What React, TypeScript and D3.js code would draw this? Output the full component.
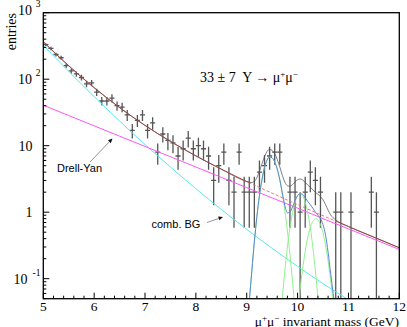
import React from 'react'
import * as d3 from 'd3'

// histogram: bin centres (GeV) and entries per 0.1 GeV bin
const binCenters = [
  5.05, 5.15, 5.25, 5.35, 5.45, 5.55, 5.65, 5.75, 5.85, 5.95,
  6.05, 6.15, 6.25, 6.35, 6.45, 6.55, 6.65, 6.75, 6.85, 6.95,
  7.05, 7.15, 7.25, 7.35, 7.45, 7.55, 7.65, 7.75, 7.85, 7.95,
  8.05, 8.15, 8.25, 8.35, 8.45, 8.55, 8.65, 8.75, 8.85, 8.95,
  9.05, 9.15, 9.25, 9.35, 9.45, 9.55, 9.65, 9.75, 9.85, 9.95,
  10.05, 10.15, 10.25, 10.35, 10.45, 10.55, 10.65, 10.75, 10.85, 10.95,
  11.05, 11.15, 11.25, 11.35, 11.45, 11.55,
]
const entries = [
  330, 290, 235, 210, 160, 133, 120, 106, 85, 88,
  64, 47, 47, 52, 40, 38, 29, 17, 24, 29,
  17, 22, 8, 15, 12, 11, 7, 9, 13, 9,
  10, 9, 7, 3, 5, 8, 3, 2, 8, 2,
  2, 2, 4, 5, 7, 8, 8, 0, 2, 2,
  1, 2, 4, 3, 2, 0, 0, 1, 1, 0,
  1, 0, 0, 0, 2, 1,
]

// background components
const bgMass = [5, 5.5, 6, 6.5, 7, 7.5, 8, 8.5, 9, 9.5, 10, 10.5, 11, 11.5, 12]
const combBG = [324, 131, 54.6, 23.5, 10.4, 4.78, 2.25, 1.1, 0.552, 0.286, 0.153, 0.0845, 0.0481, 0.028, 0.017]
const drellYan = [40.6, 28.4, 19.9, 13.9, 9.75, 6.82, 4.78, 3.34, 2.34, 1.64, 1.15, 0.8, 0.561, 0.393, 0.275]
const bgSum = [365, 159, 74.5, 37.4, 20.2, 11.6, 7.03, 4.44, 2.89, 1.93, 1.3, 0.885, 0.609, 0.421, 0.292]

// upsilon signal (sum of 1S+2S+3S)
const upsMass = [
  9.05, 9.1, 9.15, 9.2, 9.25, 9.3, 9.35, 9.4, 9.45, 9.5,
  9.55, 9.6, 9.65, 9.7, 9.75, 9.8, 9.85, 9.9, 9.95, 10.0,
  10.05, 10.1, 10.15, 10.2, 10.25, 10.3, 10.35, 10.4, 10.45, 10.5,
  10.55, 10.6, 10.65, 10.7, 10.75,
]
const upsSignal = [
  0.045, 0.13, 0.36, 0.86, 1.77, 3.1, 4.7, 6.1, 6.78, 6.56,
  5.7, 4.45, 3.1, 1.95, 1.25, 0.98, 1.0, 1.2, 1.5, 1.78,
  1.9, 1.85, 1.65, 1.45, 1.3, 1.15, 1.0, 0.9, 0.8, 0.65,
  0.45, 0.25, 0.12, 0.06, 0.03,
]

// total fit
const totalMass = [5, 5.5, 6, 6.5, 7, 7.5, 8, 8.5, 9, ...upsMass, 11, 11.5, 12]
const totalFit = [
  365, 159, 74.5, 37.4, 20.2, 11.6, 7.03, 4.44, 2.89,
  2.82, 2.79, 2.92, 3.31, 4.13, 5.36, 6.88, 8.19, 8.79, 8.49,
  7.55, 6.22, 4.8, 3.59, 2.83, 2.5, 2.46, 2.6, 2.85, 3.08,
  3.15, 3.05, 2.8, 2.56, 2.37, 2.18, 1.99, 1.86, 1.72, 1.535,
  1.3, 1.07, 0.91, 0.824, 0.765,
  0.609, 0.421, 0.292,
]

// single resonances
const y1sMass = [9.0, 9.05, 9.1, 9.15, 9.2, 9.25, 9.3, 9.35, 9.4, 9.45, 9.5, 9.55, 9.6, 9.65, 9.7, 9.75, 9.8, 9.85, 9.9, 9.95]
const y1s = [0.011, 0.045, 0.13, 0.36, 0.86, 1.77, 3.1, 4.7, 6.1, 6.78, 6.56, 5.68, 4.4, 3.05, 1.89, 1.05, 0.52, 0.23, 0.092, 0.033]
const y2sMass = [9.7, 9.75, 9.8, 9.85, 9.9, 9.95, 10.0, 10.05, 10.1, 10.15, 10.2, 10.25, 10.3, 10.35, 10.4, 10.45]
const y2s = [0.051, 0.132, 0.3, 0.58, 0.98, 1.41, 1.77, 1.9, 1.77, 1.41, 0.98, 0.58, 0.3, 0.132, 0.051, 0.017]
const y3sMass = [10.01, 10.06, 10.11, 10.16, 10.21, 10.26, 10.31, 10.36, 10.41, 10.46, 10.51, 10.56, 10.61, 10.66, 10.71, 10.76]
const y3s = [0.035, 0.081, 0.162, 0.288, 0.45, 0.62, 0.75, 0.8, 0.75, 0.62, 0.45, 0.288, 0.162, 0.081, 0.035, 0.012]

const xTicks = [5, 6, 7, 8, 9, 10, 11, 12]
const yTicks = [0.1, 1, 10, 100, 1000]
const yTickLabels = ['10^-1', '1', '10', '10^2', '10^3']

const serif = "'Liberation Serif', 'DejaVu Serif', serif"
const sans = "'Liberation Sans', Arial, sans-serif"

const L = 43.3, R = 399.3, T = 12.7, B = 298.7
const x = d3.scaleLinear().domain([5, 12]).range([L, R])
const y = d3.scaleLog().domain([0.05, 1000]).range([B, T])

const curve = (ms: number[], vs: number[]) =>
  d3.line<number>()
    .x(i => x(ms[i]))
    .y(i => y(vs[i]))
    .curve(d3.curveMonotoneX)(d3.range(ms.length)) || ''

const Arrow = ({ x1, y1, x2, y2 }: { x1: number, y1: number, x2: number, y2: number }) => {
  const a = Math.atan2(y2 - y1, x2 - x1)
  const len = 4.5, w = 2
  const bx = x2 - len * Math.cos(a), by = y2 - len * Math.sin(a)
  const pts = [
    [x2, y2],
    [bx + w * Math.sin(a), by - w * Math.cos(a)],
    [bx - w * Math.sin(a), by + w * Math.cos(a)],
  ]
  return (
    <g>
      <line x1={x1} y1={y1} x2={bx} y2={by} stroke="#888" strokeWidth={0.9} />
      <polygon points={pts.map(p => p.join(',')).join(' ')} fill="#111" />
    </g>
  )
}

export default function App() {
  const yMinor: number[] = []
  for (let e = -2; e <= 2; e++) {
    for (let k = 2; k <= 9; k++) {
      const v = k * Math.pow(10, e)
      if (v >= 0.05 && v < 1000) yMinor.push(v)
    }
  }
  const xMinor = d3.range(5, 12.001, 0.2).filter(v => Math.abs(v - Math.round(v)) > 0.01)
  const x9 = x(9.05), x107 = x(10.75)

  return (
    <svg width={407} height={327} style={{ position: 'absolute', left: 0, top: 0, background: '#fff' }}>
      <defs>
        <clipPath id="plot"><rect x={L} y={T} width={R - L} height={B - T} /></clipPath>
        <clipPath id="solid">
          <rect x={L} y={T} width={x9 - L} height={B - T} />
          <rect x={x107} y={T} width={R - x107} height={B - T} />
        </clipPath>
        <clipPath id="dash"><rect x={x9} y={T} width={x107 - x9} height={B - T} /></clipPath>
      </defs>

      {/* data points */}
      <g clipPath="url(#plot)" stroke="#555" strokeWidth={1.3}>
        {binCenters.map((c, i) => {
          const n = entries[i]
          if (n <= 0) return null
          const e = Math.sqrt(n)
          const lo = n - e > 0.05 ? n - e : 0.04
          return (
            <g key={c}>
              <line x1={x(c - 0.05)} x2={x(c + 0.05)} y1={y(n)} y2={y(n)} />
              <line x1={x(c)} x2={x(c)} y1={y(n + e)} y2={y(lo)} />
            </g>
          )
        })}
      </g>

      {/* fit components */}
      <g clipPath="url(#plot)" fill="none" strokeWidth={1}>
        <path d={curve(bgMass, combBG)} stroke="#5ae6f0" />
        <path d={curve(bgMass, drellYan)} stroke="#ff55f2" />
        <path d={curve(y1sMass, y1s)} stroke="#8ef08e" />
        <path d={curve(y2sMass, y2s)} stroke="#8ef08e" />
        <path d={curve(y3sMass, y3s)} stroke="#8ef08e" />
        <path d={curve(upsMass, upsSignal)} stroke="#5a84d6" />
      </g>
      <g fill="none" strokeWidth={1}>
        <path d={curve(bgMass, bgSum)} stroke="#ff6a6a" clipPath="url(#dash)" strokeDasharray="3,2" />
        <path d={curve(bgMass, bgSum)} stroke="#e04040" clipPath="url(#solid)" />
        <path d={curve(totalMass, totalFit)} stroke="#555" strokeOpacity={0.75} clipPath="url(#plot)" />
      </g>

      {/* frame */}
      <rect x={L} y={T} width={R - L} height={B - T} fill="none" stroke="#000" strokeWidth={1.3} />

      {/* x axis */}
      <g stroke="#000" strokeWidth={1}>
        {xTicks.map(v => <line key={v} x1={x(v)} x2={x(v)} y1={B} y2={B - 6} />)}
        {xMinor.map(v => <line key={v} x1={x(v)} x2={x(v)} y1={B} y2={B - 3} />)}
      </g>
      <g fontFamily={serif} fontSize={13.5} textAnchor="middle">
        {xTicks.map(v => <text key={v} x={x(v)} y={310.5}>{v}</text>)}
      </g>
      <text x={399} y={325.5} fontFamily={serif} fontSize={13.5} textAnchor="end">
        μ<tspan dy={-5} fontSize={9}>+</tspan><tspan dy={5}>μ</tspan><tspan dy={-5} fontSize={9}>−</tspan><tspan dy={5}> invariant mass (GeV)</tspan>
      </text>

      {/* y axis */}
      <g stroke="#000" strokeWidth={1}>
        {yTicks.map(v => <line key={v} x1={L} x2={L + 6} y1={y(v)} y2={y(v)} />)}
        {yMinor.map(v => <line key={v} x1={L} x2={L + 3} y1={y(v)} y2={y(v)} />)}
      </g>
      <g fontFamily={serif} fontSize={14}>
        {yTicks.map((v, i) => {
          const [base, sup] = yTickLabels[i].split('^')
          const by = y(v) + (v === 1000 ? 2.5 : 5)
          if (!sup) return <text key={v} x={32.5} y={by} textAnchor="end">{base}</text>
          const supW = 4.6 * sup.length
          return (
            <g key={v}>
              <text x={40.5 - supW - 3.8} y={by} textAnchor="end">{base}</text>
              <text x={40.5} y={by - 8} textAnchor="end" fontSize={9.5}>{sup}</text>
            </g>
          )
        })}
      </g>
      <text transform="translate(15.5,13) rotate(-90)" fontFamily={serif} fontSize={14} textAnchor="end">entries</text>

      {/* title */}
      <text x={200} y={82} fontFamily={serif} fontSize={14} style={{ whiteSpace: 'pre' }}>
        {'33 ± 7  Υ → μ'}<tspan dy={-5} fontSize={9}>+</tspan><tspan dy={5}>μ</tspan><tspan dy={-5} fontSize={9}>−</tspan>
      </text>

      {/* annotations */}
      <text x={57} y={171.5} fontFamily={sans} fontSize={11}>Drell-Yan</text>
      <Arrow x1={90} y1={162} x2={112.5} y2={138.5} />
      <text x={151.5} y={227.5} fontFamily={sans} fontSize={11}>comb. BG</text>
      <Arrow x1={207} y1={222.5} x2={223} y2={217} />
    </svg>
  )
}
